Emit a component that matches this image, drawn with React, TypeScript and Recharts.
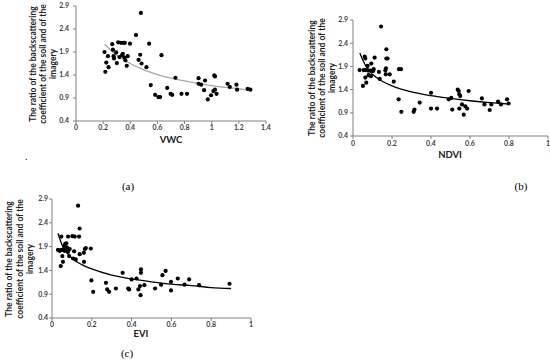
import React from "react"
import { ScatterChart, Scatter, XAxis, YAxis } from "recharts"

// VWC panel (a): [vwc, ratio]
const vwcPoints = [
  [0.21, 1.9], [0.216, 1.47], [0.223, 1.67], [0.235, 1.81], [0.24, 1.57],
  [0.267, 2.07], [0.272, 1.95], [0.277, 1.81], [0.28, 1.76], [0.296, 1.89],
  [0.301, 1.66], [0.311, 2.11], [0.32, 1.79], [0.332, 2.1], [0.34, 1.83],
  [0.35, 2.1], [0.345, 1.86], [0.357, 1.78], [0.364, 1.72], [0.374, 1.6],
  [0.381, 1.81], [0.36, 2.1], [0.398, 2.08], [0.442, 2.27], [0.461, 1.73],
  [0.473, 1.84], [0.478, 2.75], [0.483, 1.65], [0.519, 1.57], [0.539, 2.08],
  [0.551, 1.18], [0.63, 1.83], [0.583, 0.97], [0.607, 0.92], [0.62, 0.92],
  [0.672, 1.12], [0.697, 0.99], [0.709, 0.97], [0.733, 1.34], [0.777, 0.99],
  [0.818, 0.99], [0.903, 1.33], [0.903, 1.21], [0.922, 1.19], [0.944, 1.07],
  [0.951, 1.28], [0.971, 0.87], [0.995, 0.96], [1.012, 1.05], [1.019, 1.39],
  [1.024, 1.37], [1.024, 1.08], [1.036, 0.99], [1.117, 1.21], [1.133, 1.14],
  [1.182, 1.19], [1.187, 1.08], [1.265, 1.1], [1.285, 1.08],
]
const vwcTrend = [
  [0.21, 2.07], [0.3, 1.83], [0.4, 1.65], [0.5, 1.51], [0.6, 1.41], [0.7, 1.33],
  [0.8, 1.27], [0.9, 1.22], [1.0, 1.17], [1.1, 1.13], [1.2, 1.1], [1.28, 1.07],
]

// NDVI panel (b)
const ndviPoints = [
  [0.034, 1.82], [0.051, 1.48], [0.055, 1.82], [0.06, 2.11], [0.063, 2.07],
  [0.063, 1.66], [0.065, 1.82], [0.068, 1.55], [0.075, 1.91], [0.078, 1.81],
  [0.08, 1.71], [0.089, 1.81], [0.092, 1.69], [0.094, 1.96], [0.103, 1.8],
  [0.106, 1.84], [0.111, 2.09], [0.133, 1.78], [0.137, 1.63], [0.144, 2.76],
  [0.166, 1.81], [0.169, 1.86], [0.171, 2.27], [0.171, 2.07], [0.177, 2.07],
  [0.168, 1.73], [0.188, 1.73], [0.209, 1.57], [0.234, 1.19], [0.236, 1.84],
  [0.246, 1.84], [0.248, 0.92], [0.311, 0.92], [0.315, 0.97], [0.342, 1.12],
  [0.4, 1.33], [0.4, 0.99], [0.431, 0.99], [0.491, 1.19], [0.504, 1.22],
  [0.509, 0.97], [0.537, 1.4], [0.542, 1.37], [0.545, 1.3], [0.545, 0.99],
  [0.55, 1.26], [0.559, 1.08], [0.568, 0.86], [0.576, 1.04], [0.585, 0.99],
  [0.593, 1.37], [0.661, 1.21], [0.674, 1.08], [0.701, 0.96], [0.709, 1.08],
  [0.744, 1.14], [0.759, 1.08], [0.79, 1.19], [0.798, 1.1],
]
const ndviTrend = [
  [0.035, 2.19], [0.05, 2.04], [0.075, 1.85], [0.1, 1.73], [0.15, 1.58], [0.2, 1.48],
  [0.3, 1.35], [0.4, 1.27], [0.5, 1.21], [0.6, 1.16], [0.7, 1.12], [0.8, 1.09],
]

// EVI panel (c)
const eviPoints = [
  [0.03, 1.83], [0.039, 1.81], [0.044, 1.49], [0.047, 1.83], [0.047, 2.11],
  [0.052, 1.7], [0.055, 1.58], [0.055, 1.83], [0.061, 1.91], [0.064, 1.81],
  [0.066, 1.95], [0.069, 1.84], [0.072, 1.97], [0.076, 1.88], [0.081, 1.79],
  [0.081, 2.11], [0.086, 1.7], [0.089, 1.85], [0.103, 2.12], [0.106, 1.65],
  [0.111, 1.8], [0.114, 2.11], [0.119, 1.63], [0.131, 2.76], [0.136, 2.11],
  [0.139, 2.28], [0.139, 1.74], [0.16, 1.77], [0.161, 1.58], [0.165, 1.85],
  [0.17, 1.87], [0.195, 1.86], [0.198, 1.19], [0.207, 0.95], [0.271, 1.14],
  [0.277, 1.0], [0.287, 0.95], [0.321, 1.02], [0.355, 1.35], [0.383, 1.02],
  [0.388, 1.0], [0.4, 1.21], [0.425, 1.23], [0.434, 1.0], [0.442, 1.07],
  [0.445, 0.88], [0.447, 1.42], [0.447, 1.35], [0.464, 1.09], [0.518, 1.02],
  [0.548, 1.1], [0.555, 1.3], [0.571, 1.39], [0.598, 1.16], [0.598, 0.98],
  [0.632, 1.23], [0.666, 1.1], [0.689, 1.21], [0.739, 1.09], [0.892, 1.12],
]
const eviTrend = [
  [0.03, 2.18], [0.05, 1.94], [0.075, 1.77], [0.1, 1.66], [0.15, 1.52], [0.2, 1.43],
  [0.3, 1.3], [0.4, 1.22], [0.5, 1.16], [0.6, 1.11], [0.7, 1.08], [0.8, 1.04], [0.9, 1.02],
]

const ratioTicks = [0.4, 0.9, 1.4, 1.9, 2.4, 2.9]
const vwcTicks = [0, 0.2, 0.4, 0.6, 0.8, 1, 1.2, 1.4]
const unitTicks = [0, 0.2, 0.4, 0.6, 0.8, 1]
const titleLines = ["The ratio of the backscattering", "coefficient of the soil and of the", "imagery"]

const font = "Lato, 'Open Sans', sans-serif"
const toXY = (rows: number[][]) => rows.map(([x, y]) => ({ x, y }))

const Dot = (p: any) => <circle cx={p.cx} cy={p.cy} r={2.1} fill="#000" />
const NoDot = () => <g />

type PanelProps = {
  left: number
  top: number
  width: number
  height: number
  marginTop: number
  xHeight: number
  xMax: number
  xTicks: number[]
  yMargin: number
  xMargin: number
  points: number[][]
  trend: number[][]
  trendColor: string
}

// each panel leaves 10px on the right so the last x tick label is not clipped
function Panel(p: PanelProps) {
  const tick = { fontSize: 7, fill: "#404040", fontFamily: font, fontWeight: 700 }
  return (
    <div style={{ position: "absolute", left: p.left, top: p.top }}>
      <ScatterChart
        width={p.width + 10}
        height={p.height}
        margin={{ top: p.marginTop, right: 10, bottom: 0, left: 0 }}
      >
        <XAxis
          type="number"
          dataKey="x"
          domain={[0, p.xMax]}
          ticks={p.xTicks}
          height={p.xHeight}
          stroke="#808080"
          tickSize={3}
          tickMargin={p.xMargin}
          tick={tick}
          interval={0}
          allowDataOverflow
        />
        <YAxis
          type="number"
          dataKey="y"
          domain={[0.4, 2.9]}
          ticks={ratioTicks}
          width={36}
          stroke="#808080"
          tickSize={3}
          tickMargin={p.yMargin}
          tick={tick}
          interval={0}
        />
        <Scatter
          data={toXY(p.trend)}
          line={{ stroke: p.trendColor, strokeWidth: 1.3 }}
          lineJointType="monotoneX"
          shape={NoDot}
          isAnimationActive={false}
        />
        <Scatter data={toXY(p.points)} shape={Dot} isAnimationActive={false} />
      </ScatterChart>
    </div>
  )
}

function YTitle({ x, y, gap }: { x: number; y: number; gap: number }) {
  return (
    <>
      {titleLines.map((t, i) => (
        <text
          key={i}
          transform={`translate(${x + i * gap},${y}) rotate(-90)`}
          textAnchor="middle"
          dominantBaseline="central"
          fontSize={8.5}
          fontWeight={700}
          fontFamily={font}
          fill="#222"
        >
          {t}
        </text>
      ))}
    </>
  )
}

export default function App() {
  const axisTitle = { fontSize: 9.5, fontWeight: 700, fontFamily: font, fill: "#222", textAnchor: "middle" as const }
  const caption = { fontSize: 11, fontFamily: "'Liberation Serif', serif", fill: "#000", textAnchor: "middle" as const }
  return (
    <div style={{ position: "absolute", left: 0, top: 0, width: 550, height: 361, background: "#fff", overflow: "hidden" }}>
      <Panel left={40} top={0} width={226} height={150} marginTop={6} xHeight={29} xMax={1.4}
        xTicks={vwcTicks} yMargin={4} xMargin={1} points={vwcPoints} trend={vwcTrend} trendColor="#a6a6a6" />
      <Panel left={317} top={0} width={231} height={160} marginTop={20} xHeight={24} xMax={1}
        xTicks={unitTicks} yMargin={2} xMargin={2} points={ndviPoints} trend={ndviTrend} trendColor="#000" />
      <Panel left={16} top={180} width={235} height={160} marginTop={19} xHeight={22} xMax={1}
        xTicks={unitTicks} yMargin={1} xMargin={1} points={eviPoints} trend={eviTrend} trendColor="#000" />
      <svg width={550} height={361} style={{ position: "absolute", left: 0, top: 0, pointerEvents: "none" }}>
        <YTitle x={33} y={64} gap={10} />
        <YTitle x={312} y={78} gap={10} />
        <YTitle x={9} y={259} gap={10.5} />
        <text x={171} y={143} {...axisTitle}>VWC</text>
        <text x={450} y={158} {...axisTitle}>NDVI</text>
        <text x={141} y={337} {...axisTitle}>EVI</text>
        <text x={25} y={160} fontSize={10} fill="#000">.</text>
        <text x={128} y={190} {...caption}>(a)</text>
        <text x={521} y={190} {...caption}>(b)</text>
        <text x={127} y={357} {...caption}>(c)</text>
      </svg>
    </div>
  )
}
